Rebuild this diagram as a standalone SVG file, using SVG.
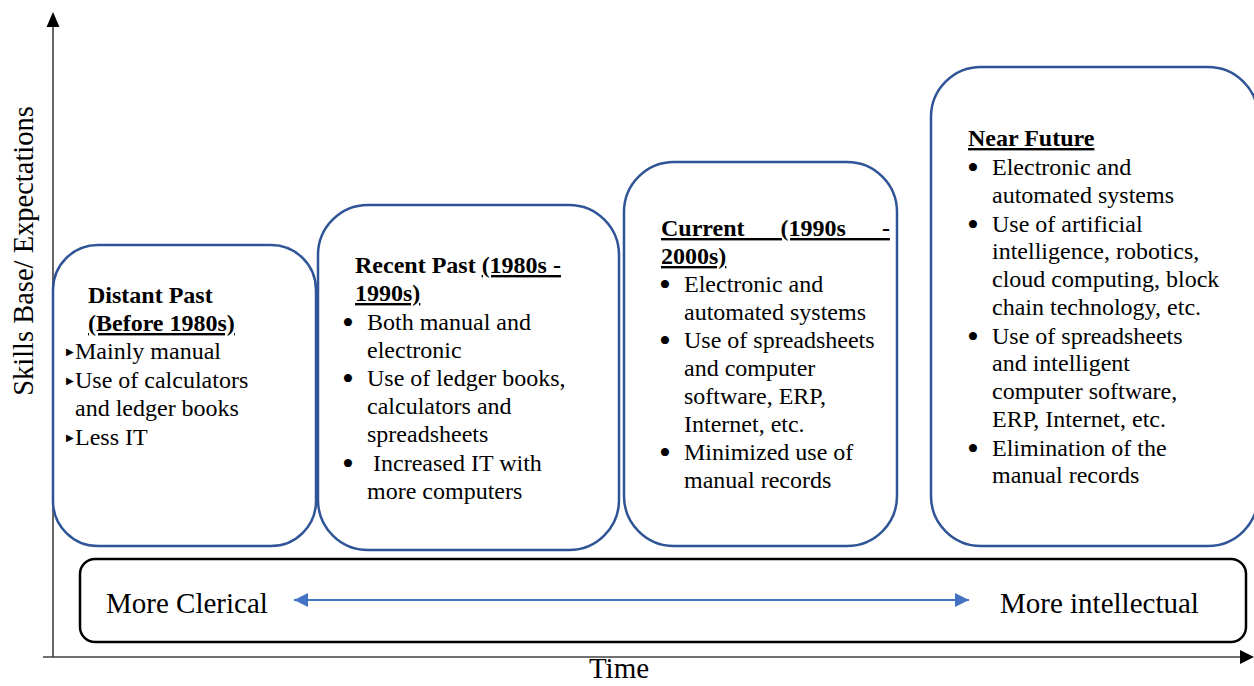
<svg xmlns="http://www.w3.org/2000/svg" width="1254" height="686" viewBox="0 0 1254 686">
<style>
.box{fill:#fff;stroke:#2F5597;stroke-width:2.5}
.t{font-family:"Liberation Serif","Times New Roman",serif;font-size:24px;fill:#000}
.b{font-weight:bold}
.u{text-decoration:underline}
.bul{font-family:"Liberation Serif","Times New Roman",serif;font-size:34px;fill:#000;text-anchor:middle}
.tri{font-family:"DejaVu Sans",sans-serif;font-size:10px;fill:#000}
.big{font-family:"Liberation Serif","Times New Roman",serif;font-size:29px;fill:#000}
.axis{stroke:#404040;stroke-width:1.6;fill:none}
</style>
<defs>
<marker id="ah" viewBox="0 0 10 10" refX="10" refY="5" markerWidth="7" markerHeight="7" markerUnits="strokeWidth" orient="auto-start-reverse">
<path d="M0,0 L10,5 L0,10 z" fill="#4472C4"/>
</marker>
</defs>
<rect width="1254" height="686" fill="#fff"/>

<g id="axes">
<line class="axis" x1="53" y1="657" x2="53" y2="24"/>
<polygon points="53,12 46.5,27 59.5,27" fill="#000"/>
<line class="axis" x1="43" y1="657" x2="1242" y2="657"/>
<polygon points="1254,657 1240,650 1240,664" fill="#000"/>
<text class="big" style="font-size:28.5px" text-anchor="middle" transform="translate(33,251) rotate(-90)">Skills Base/ Expectations</text>
<text class="big" style="font-size:29px" x="619" y="678" text-anchor="middle">Time</text>
</g>

<g id="distant-past">
<rect class="box" x="53" y="245" width="263" height="301" rx="45" ry="45"/>
<text class="t b" x="88" y="303">Distant Past</text>
<text class="t b u" x="88" y="331">(Before 1980s)</text>
<text class="tri" x="66" y="355">▶</text>
<text class="t" x="75" y="359">Mainly manual</text>
<text class="tri" x="66" y="384">▶</text>
<text class="t" x="75" y="388">Use of calculators</text>
<text class="t" x="75" y="416">and ledger books</text>
<text class="tri" x="66" y="441">▶</text>
<text class="t" x="75" y="445">Less IT</text>
</g>

<g id="recent-past">
<rect class="box" x="318" y="205" width="301" height="345" rx="50" ry="50"/>
<text class="t b" x="355" y="273">Recent Past <tspan class="u">(1980s -</tspan></text>
<text class="t b u" x="355" y="301">1990s)</text>
<text class="bul" x="348" y="334">•</text>
<text class="t" x="367" y="330">Both manual and</text>
<text class="t" x="367" y="358">electronic</text>
<text class="bul" x="348" y="390">•</text>
<text class="t" x="367" y="386">Use of ledger books,</text>
<text class="t" x="367" y="414">calculators and</text>
<text class="t" x="367" y="442">spreadsheets</text>
<text class="bul" x="348" y="475">•</text>
<text class="t" x="373" y="471">Increased IT with</text>
<text class="t" x="367" y="499">more computers</text>
</g>

<g id="current">
<rect class="box" x="624" y="162" width="273" height="384" rx="50" ry="50"/>
<text class="t b u" x="661" y="236" style="word-spacing:30px">Current (1990s -</text>
<text class="t b u" x="661" y="264">2000s)</text>
<text class="bul" x="665" y="296">•</text>
<text class="t" x="684" y="292">Electronic and</text>
<text class="t" x="684" y="320">automated systems</text>
<text class="bul" x="665" y="352">•</text>
<text class="t" x="684" y="348">Use of spreadsheets</text>
<text class="t" x="684" y="376">and computer</text>
<text class="t" x="684" y="404">software, ERP,</text>
<text class="t" x="684" y="432">Internet, etc.</text>
<text class="bul" x="665" y="464">•</text>
<text class="t" x="684" y="460">Minimized use of</text>
<text class="t" x="684" y="488">manual records</text>
</g>

<g id="near-future">
<rect class="box" x="931" y="67" width="327" height="479" rx="50" ry="50"/>
<text class="t b u" x="968" y="146">Near Future</text>
<text class="bul" x="973" y="179">•</text>
<text class="t" x="992" y="175">Electronic and</text>
<text class="t" x="992" y="203">automated systems</text>
<text class="bul" x="973" y="236">•</text>
<text class="t" x="992" y="232">Use of artificial</text>
<text class="t" x="992" y="259">intelligence, robotics,</text>
<text class="t" x="992" y="287">cloud computing, block</text>
<text class="t" x="992" y="315">chain technology, etc.</text>
<text class="bul" x="973" y="348">•</text>
<text class="t" x="992" y="344">Use of spreadsheets</text>
<text class="t" x="992" y="371">and intelligent</text>
<text class="t" x="992" y="399">computer software,</text>
<text class="t" x="992" y="427">ERP, Internet, etc.</text>
<text class="bul" x="973" y="460">•</text>
<text class="t" x="992" y="456">Elimination of the</text>
<text class="t" x="992" y="483">manual records</text>
</g>

<g id="spectrum">
<rect x="80" y="559" width="1166" height="83" rx="15" ry="15" fill="#fff" stroke="#000" stroke-width="2.5"/>
<text class="big" x="106" y="613">More Clerical</text>
<text class="big" x="1000" y="613">More intellectual</text>
</g>

<g id="connectors">
<line x1="294" y1="600" x2="969" y2="600" stroke="#4472C4" stroke-width="2" marker-start="url(#ah)" marker-end="url(#ah)"/>
</g>
</svg>
